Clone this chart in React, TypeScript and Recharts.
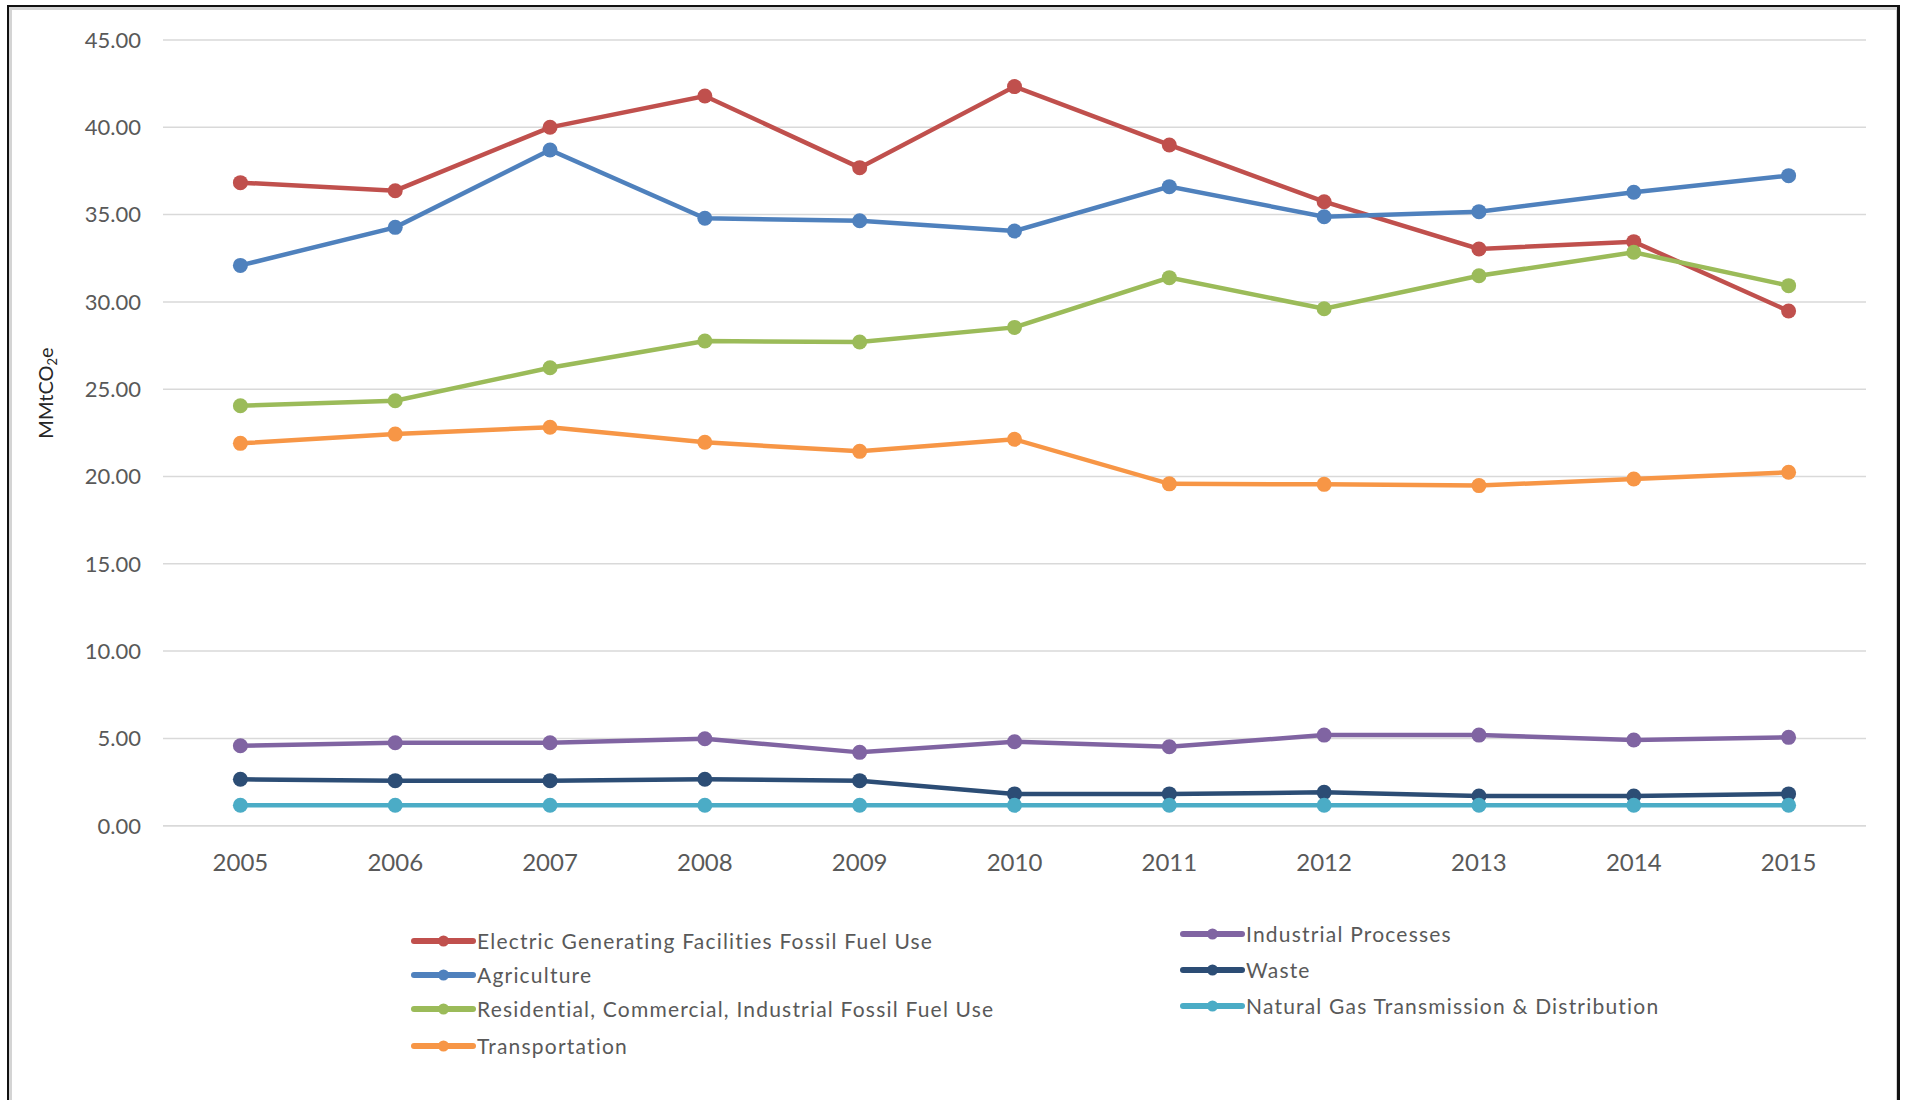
import React from 'react';
import { LineChart, Line, XAxis, YAxis, CartesianGrid } from 'recharts';

// Greenhouse gas emissions by sector, MMtCO2e, 2005-2015
const years = ['2005', '2006', '2007', '2008', '2009', '2010', '2011', '2012', '2013', '2014', '2015'];

const electricGenerating = [36.83, 36.37, 40.0, 41.79, 37.69, 42.33, 38.99, 35.74, 33.03, 33.45, 29.48];
const agriculture = [32.09, 34.27, 38.7, 34.79, 34.65, 34.06, 36.6, 34.88, 35.17, 36.28, 37.23];
const residentialCommercialIndustrial = [24.05, 24.34, 26.23, 27.76, 27.7, 28.54, 31.39, 29.61, 31.5, 32.84, 30.93];
const transportation = [21.9, 22.43, 22.82, 21.96, 21.44, 22.13, 19.58, 19.55, 19.48, 19.86, 20.24];
const industrialProcesses = [4.58, 4.75, 4.75, 4.98, 4.2, 4.81, 4.52, 5.19, 5.19, 4.91, 5.06];
const waste = [2.66, 2.58, 2.58, 2.66, 2.58, 1.82, 1.82, 1.91, 1.7, 1.7, 1.82];
const naturalGasTD = [1.17, 1.17, 1.17, 1.17, 1.17, 1.17, 1.17, 1.17, 1.17, 1.17, 1.17];

const yTicks = [0, 5, 10, 15, 20, 25, 30, 35, 40, 45];

type Series = { key: string; name: string; color: string; values: number[] };

const series: Series[] = [
  { key: 'electric', name: 'Electric Generating Facilities Fossil Fuel Use', color: '#C0504D', values: electricGenerating },
  { key: 'agriculture', name: 'Agriculture', color: '#4F81BD', values: agriculture },
  { key: 'residential', name: 'Residential, Commercial, Industrial Fossil Fuel Use', color: '#9BBB59', values: residentialCommercialIndustrial },
  { key: 'transportation', name: 'Transportation', color: '#F79646', values: transportation },
  { key: 'industrial', name: 'Industrial Processes', color: '#8064A2', values: industrialProcesses },
  { key: 'waste', name: 'Waste', color: '#2C4D75', values: waste },
  { key: 'naturalGas', name: 'Natural Gas Transmission & Distribution', color: '#4BACC6', values: naturalGasTD },
];

const data = years.map((year, i) => {
  const row: Record<string, string | number> = { year };
  series.forEach((s) => {
    row[s.key] = s.values[i];
  });
  return row;
});

const FONT = 'Lato, "Open Sans", sans-serif';
const TEXT = '#595959';

// Two legend columns: series indices, icon start x, and row centres
const legendColumns = [
  { items: [0, 1, 2, 3], x: 414, rows: [941, 975, 1009, 1046] },
  { items: [4, 5, 6], x: 1183, rows: [934, 970, 1006] },
];

const YLabel = () => (
  <text
    x={53}
    y={393}
    transform="rotate(-90, 53, 393)"
    textAnchor="middle"
    fontFamily={FONT}
    fontSize={20}
    fill="#262626"
  >
    <tspan>MMtCO</tspan>
    <tspan fontSize={13} dy={4}>2</tspan>
    <tspan dy={-4}>e</tspan>
  </text>
);

export default function App() {
  return (
    <div style={{ position: 'absolute', left: 0, top: 0, width: 1906, height: 1100, overflow: 'hidden', background: '#fff' }}>
      <div
        style={{
          position: 'absolute',
          left: 7,
          top: 5,
          width: 1893,
          height: 1095,
          boxSizing: 'border-box',
          borderTop: '2px solid #111',
          borderLeft: '2px solid #111',
          borderRight: '3px solid #111',
          boxShadow: 'inset 2px 2px 0 1px #d4d4d4, inset -1px 0 0 0 #d4d4d4',
        }}
      />
      <div style={{ position: 'absolute', left: 0, top: 0 }}>
        <LineChart width={1906} height={900} data={data} margin={{ top: 40, right: 40, bottom: 0, left: 0 }}>
          <CartesianGrid vertical={false} stroke="#d9d9d9" strokeWidth={1.5} />
          <XAxis
            dataKey="year"
            type="category"
            padding={{ left: 77.4, right: 77.4 }}
            height={74.3}
            tickLine={false}
            tickSize={0}
            tickMargin={28}
            axisLine={{ stroke: '#d9d9d9', strokeWidth: 1.5 }}
            tick={{ fill: TEXT, fontSize: 24, fontFamily: FONT }}
          />
          <YAxis
            width={163}
            domain={[0, 45]}
            ticks={yTicks}
            tickFormatter={(v: number) => v.toFixed(2)}
            axisLine={false}
            tickLine={false}
            tickSize={0}
            tickMargin={22}
            tick={{ fill: TEXT, fontSize: 22, fontFamily: FONT }}
            label={<YLabel />}
          />
          {series.map((s) => (
            <Line
              key={s.key}
              type="linear"
              dataKey={s.key}
              name={s.name}
              stroke={s.color}
              strokeWidth={4.5}
              dot={{ r: 7.5, fill: s.color, stroke: 'none' }}
              activeDot={false}
              isAnimationActive={false}
            />
          ))}
        </LineChart>
      </div>
      <svg width={1906} height={1100} style={{ position: 'absolute', left: 0, top: 0, pointerEvents: 'none' }}>
        {legendColumns.map((col, ci) =>
          col.items.map((idx, ri) => {
            const s = series[idx];
            const cy = col.rows[ri];
            return (
              <g key={`${ci}-${ri}`}>
                <line x1={col.x} x2={col.x + 59} y1={cy} y2={cy} stroke={s.color} strokeWidth={6} strokeLinecap="round" />
                <circle cx={col.x + 29.5} cy={cy} r={5.5} fill={s.color} />
                <text x={col.x + 63} y={cy + 7.5} fontFamily={FONT} fontSize={21} letterSpacing={1.2} fill={TEXT}>
                  {s.name}
                </text>
              </g>
            );
          })
        )}
      </svg>
    </div>
  );
}
